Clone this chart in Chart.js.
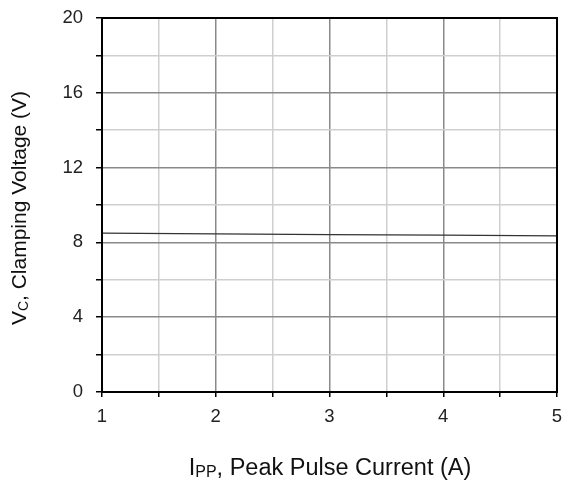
<!DOCTYPE html>
<html>
<head>
<meta charset="utf-8">
<script src="https://cdn.jsdelivr.net/npm/chart.js@4"></script>
<style>
  html, body { margin: 0; padding: 0; background: #fff; }
  #wrap { width: 564px; height: 488px; }
</style>
</head>
<body>
<div id="wrap"><canvas id="chart" width="564" height="488"></canvas></div>
<script>
// current (A) vs clamping voltage (V)
const currents = [1, 2, 3, 4, 5]
const voltages = [8.5, 8.46, 8.42, 8.39, 8.35]

const xLabels = [1, 2, 3, 4, 5]
const yLabels = [0, 4, 8, 12, 16, 20]

const FONT = "'Liberation Sans', Arial, sans-serif"

/* axis titles with subscripts + frame */
const extras = {
  id: "extras",
  afterDraw(chart) {
    const ctx = chart.ctx
    const a = chart.chartArea
    ctx.save()

    ctx.strokeStyle = "#000"
    ctx.lineWidth = 2
    ctx.strokeRect(a.left, a.top, a.right - a.left, a.bottom - a.top)

    function sub(parts, x, y, big, small) {
      // parts: [text, isSub]
      let w = 0
      parts.forEach(p => {
        ctx.font = (p[1] ? small : big) + "px " + FONT
        w += ctx.measureText(p[0]).width
      })
      let cx = x - w / 2
      parts.forEach(p => {
        ctx.font = (p[1] ? small : big) + "px " + FONT
        ctx.fillText(p[0], cx, p[1] ? y + 4 : y)
        cx += ctx.measureText(p[0]).width
      })
    }

    ctx.fillStyle = "#111"
    ctx.textBaseline = "middle"
    ctx.textAlign = "left"
    sub([["I", false], ["PP", true], [", Peak Pulse Current (A)", false]], 330, 469, 23.5, 16)

    ctx.translate(20, 208)
    ctx.rotate(-Math.PI / 2)
    sub([["V", false], ["C", true], [", Clamping Voltage (V)", false]], 0, 0, 21, 14)

    ctx.restore()
  }
}

new Chart(document.getElementById("chart"), {
  type: "line",
  data: {
    datasets: [{
      data: currents.map((c, i) => ({ x: c, y: voltages[i] })),
      borderColor: "#333",
      borderWidth: 1.3,
      pointRadius: 0,
      fill: false,
      tension: 0
    }]
  },
  options: {
    responsive: false,
    animation: false,
    layout: { padding: { left: 0, right: 7, top: 18, bottom: 0 } },
    plugins: { legend: { display: false }, tooltip: { enabled: false } },
    scales: {
      x: {
        type: "linear",
        min: 1,
        max: 5,
        afterFit: s => { s.height = 96; s.paddingLeft = 0; s.paddingRight = 0 },
        afterBuildTicks: s => {
          s.ticks = []
          for (let v = 1; v <= 5; v += 0.5) s.ticks.push({ value: v })
        },
        ticks: {
          autoSkip: false,
          maxRotation: 0,
          color: "#222",
          padding: 9,
          font: { family: FONT, size: 18.5 },
          callback: v => xLabels.includes(v) ? String(v) : ""
        },
        grid: {
          color: c => (c.tick && Number.isInteger(c.tick.value)) ? "#8a8a8a" : "#cfcfcf",
          lineWidth: 1.5,
          tickColor: "#000",
          tickLength: 5,
          tickWidth: 1.5
        },
        border: { color: "#000", width: 2 }
      },
      y: {
        min: 0,
        max: 20,
        afterFit: s => { s.width = 102; s.paddingTop = 0; s.paddingBottom = 0 },
        afterBuildTicks: s => {
          s.ticks = []
          for (let v = 0; v <= 20; v += 2) s.ticks.push({ value: v })
        },
        ticks: {
          autoSkip: false,
          color: "#222",
          padding: 13,
          font: { family: FONT, size: 18.5 },
          callback: v => yLabels.includes(v) ? String(v) : ""
        },
        grid: {
          color: c => (c.tick && c.tick.value % 4 === 0) ? "#8a8a8a" : "#cfcfcf",
          lineWidth: 1.5,
          tickColor: "#000",
          tickLength: 6,
          tickWidth: 1.5
        },
        border: { color: "#000", width: 2 }
      }
    }
  },
  plugins: [extras]
})
</script>
</body>
</html>
